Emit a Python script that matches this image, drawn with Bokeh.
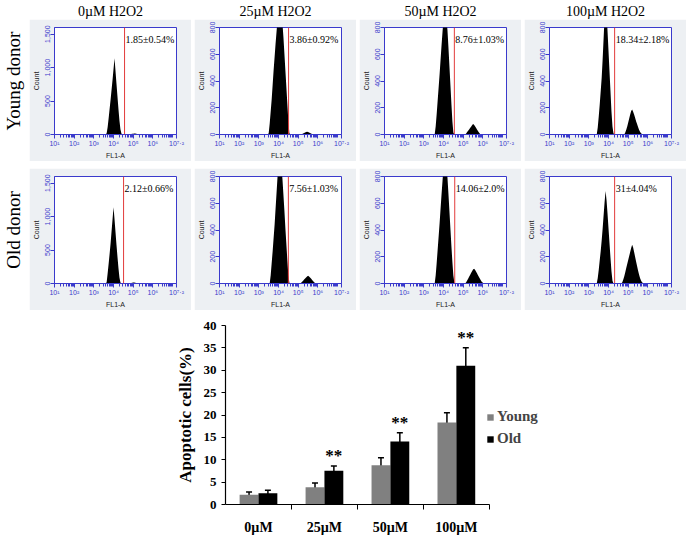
from math import log10, pi
from bokeh.plotting import figure
from bokeh.layouts import column, row
from bokeh.models import (Range1d, FixedTicker, Span, Label, ColumnDataSource,
                          Whisker, TeeHead, Legend, LegendItem,
                          Spacer, NumeralTickFormatter)
from bokeh.transform import dodge
from bokeh.embed import file_html
from bokeh.resources import INLINE
from bokeh.core.properties import value

# ---------------- data ----------------
concentrations = ["0µM", "25µM", "50µM", "100µM"]
panel_titles = ["0µM H2O2", "25µM H2O2", "50µM H2O2", "100µM H2O2"]
donors = ["Young donor", "Old donor"]

young_pct = [2.2, 3.86, 8.76, 18.34]
young_err = [0.6, 0.92, 1.7, 2.18]
old_pct = [2.5, 7.56, 14.06, 31.0]
old_err = [0.7, 1.03, 2.0, 4.04]
significance = ["", "**", "**", "**"]

young_gate_text = ["1.85±0.54%", "3.86±0.92%", "8.76±1.03%", "18.34±2.18%"]
old_gate_text = ["2.12±0.66%", "7.56±1.03%", "14.06±2.0%", "31±4.04%"]
young_gate = [4.56, 4.51, 4.55, 4.31]
old_gate = [4.51, 4.50, 4.57, 4.31]
count_max = [1600, 800, 800, 800]
count_ticks = [[0, 500, 1000, 1500], [0, 200, 400, 600, 800],
               [0, 200, 400, 600, 800], [0, 200, 400, 600, 800]]

# log10(FL1-A) bin centres of the flow histograms
fl1_log = [3.30, 3.35, 3.40, 3.45, 3.50, 3.55, 3.60, 3.65, 3.70, 3.75,
           3.80, 3.85, 3.90, 3.95, 4.00, 4.05, 4.10, 4.15, 4.20, 4.25,
           4.30, 4.35, 4.40, 4.45, 4.50, 4.55, 4.60, 4.65, 4.70, 4.75,
           4.80, 4.85, 4.90, 4.95, 5.00, 5.05, 5.10, 5.15, 5.20, 5.25,
           5.30, 5.35, 5.40, 5.45, 5.50, 5.55, 5.60, 5.65, 5.70, 5.75,
           5.80, 5.85, 5.90, 5.95, 6.00, 6.05, 6.10]

young_0 = [0, 0, 0, 0, 0, 0, 0, 20, 110, 240,
           380, 520, 670, 820, 980, 1140, 950, 760, 570, 380,
           210, 80, 15, 0, 0, 0, 0, 0, 0, 0,
           0, 2, 6, 10, 13, 15, 14, 11, 7, 4,
           2, 0, 0, 0, 0, 0, 0, 0, 0, 0,
           0, 0, 0, 0, 0, 0, 0]
young_25 = [0, 0, 0, 0, 10, 80, 170, 260, 370, 480,
            580, 680, 770, 860, 960, 1060, 1000, 920, 830, 725,
            600, 475, 350, 225, 100, 10, 0, 0, 0, 0,
            0, 0, 0, 0, 0, 0, 0, 0, 3, 7,
            11, 15, 19, 21, 19, 15, 11, 7, 4, 2,
            0, 0, 0, 0, 0, 0, 0]
young_50 = [0, 0, 0, 0, 0, 0, 60, 150, 250, 350,
            450, 560, 670, 770, 860, 960, 920, 860, 780, 650,
            510, 370, 230, 100, 15, 0, 0, 0, 0, 0,
            0, 0, 0, 0, 0, 0, 0, 8, 18, 28,
            38, 48, 58, 70, 78, 72, 62, 50, 38, 26,
            15, 6, 0, 0, 0, 0, 0]
young_100 = [0, 0, 0, 50, 130, 220, 320, 420, 560, 720,
             880, 1000, 920, 770, 620, 470, 320, 170, 60, 10,
             0, 0, 0, 0, 0, 0, 0, 0, 0, 0,
             0, 15, 35, 60, 90, 120, 150, 175, 186, 170,
             150, 125, 100, 78, 56, 36, 20, 9, 3, 0,
             0, 0, 0, 0, 0, 0, 0]
old_0 = [0, 0, 0, 0, 0, 0, 0, 20, 150, 290,
         440, 600, 780, 960, 1140, 960, 770, 580, 400, 230,
         90, 15, 0, 0, 0, 0, 0, 0, 0, 0,
         0, 3, 7, 11, 14, 15, 13, 9, 5, 2,
         0, 0, 0, 0, 0, 0, 0, 0, 0, 0,
         0, 0, 0, 0, 0, 0, 0]
old_25 = [0, 0, 0, 0, 0, 0, 60, 150, 240, 340,
          440, 560, 680, 800, 900, 1010, 950, 870, 780, 660,
          540, 410, 290, 170, 60, 5, 0, 0, 0, 0,
          0, 0, 0, 0, 0, 0, 0, 6, 13, 21,
          29, 37, 45, 53, 58, 53, 45, 37, 28, 19,
          11, 4, 0, 0, 0, 0, 0]
old_50 = [0, 0, 0, 0, 0, 0, 60, 150, 250, 350,
          450, 560, 670, 770, 870, 970, 930, 870, 790, 670,
          540, 410, 280, 160, 60, 8, 0, 0, 0, 0,
          0, 0, 0, 0, 0, 0, 0, 10, 22, 36,
          50, 64, 78, 92, 104, 110, 102, 90, 76, 62,
          48, 35, 23, 12, 5, 0, 0]
old_100 = [0, 0, 0, 40, 100, 170, 240, 320, 410, 510,
           610, 692, 620, 520, 410, 300, 190, 90, 20, 0,
           0, 0, 0, 0, 0, 0, 0, 0, 10, 30,
           55, 85, 115, 145, 175, 205, 235, 265, 289, 270,
           235, 200, 165, 130, 97, 68, 42, 22, 9, 3,
           0, 0, 0, 0, 0, 0, 0]

young_hist = [young_0, young_25, young_50, young_100]
old_hist = [old_0, old_25, old_50, old_100]

# axis labels of the flow panels
decade_ticks = [1, 2, 3, 4, 5, 6, 7.2]
decade_labels = ["10¹", "10²", "10³", "10⁴", "10⁵", "10⁶", "10⁷·²"]

# ---------------- style ----------------
BLUE = "#3a3acc"
PANEL_BG = "#edf0f3"
SERIF = "Liberation Serif"
SANS = "Liberation Sans"
LW, PW, PH, GAP = 26, 162, 142, 3

minor_x = [d + log10(k) for d in range(1, 7) for k in range(2, 10)] + [7.0]


def text_fig(txt, w, h, size, angle=0.0, yoff=0):
    f = figure(width=w, height=h, x_range=Range1d(0, 1), y_range=Range1d(0, 1),
               x_axis_location=None, y_axis_location=None, min_border=0,
               output_backend="svg", toolbar_location=None)
    f.grid.visible = False
    f.outline_line_color = None
    f.text(x=[0.5], y=[0.5], text=[txt], angle=angle, text_align="center",
           text_baseline="middle", y_offset=yoff, text_font=value(SERIF),
           text_font_size=size, text_color="black")
    return f


def flow_panel(counts, gate, pct, ymax, yticks):
    p = figure(width=PW, height=PH, x_range=Range1d(1, 7.2), y_range=Range1d(0, ymax),
               output_backend="svg", toolbar_location=None,
               min_border_left=24, min_border_right=15, min_border_top=8, min_border_bottom=26,
               background_fill_color="white", border_fill_color=PANEL_BG,
               outline_line_color=BLUE, outline_line_width=1)
    p.grid.visible = False
    p.varea(x=fl1_log, y1=0, y2=counts, fill_color="black")
    p.add_layout(Span(location=gate, dimension="height", line_color="#e23b3b", line_width=1))
    p.add_layout(Label(x=gate, y=ymax, x_offset=1, y_offset=-12, text=pct,
                       text_font=SERIF, text_font_size="10px", text_baseline="middle",
                       text_color="black"))
    xa = p.xaxis[0]
    xa.ticker = FixedTicker(ticks=decade_ticks, minor_ticks=minor_x)
    xa.major_label_overrides = {t: l for t, l in zip(decade_ticks, decade_labels)}
    xa.axis_label = "FL1-A"
    ya = p.yaxis[0]
    ya.ticker = FixedTicker(ticks=yticks)
    ya.formatter = NumeralTickFormatter(format="0,0")
    ya.major_label_orientation = "vertical"
    ya.axis_label = "Count"
    for ax in (xa, ya):
        ax.axis_line_color = BLUE
        ax.major_tick_line_color = BLUE
        ax.minor_tick_line_color = BLUE
        ax.major_tick_in = 0
        ax.minor_tick_in = 0
        ax.major_tick_out = 4
        ax.minor_tick_out = 3
        ax.major_label_text_color = BLUE
        ax.major_label_text_font = SANS
        ax.major_label_text_font_size = "7px"
        ax.major_label_standoff = 1
        ax.axis_label_text_font = SANS
        ax.axis_label_text_font_size = "7px"
        ax.axis_label_text_font_style = "normal"
        ax.axis_label_text_color = "#222222"
        ax.axis_label_standoff = 2
    return p


header = row(Spacer(width=LW, height=19),
             *[text_fig(t, PW, 19, "14px", yoff=1) for t in panel_titles], spacing=GAP)

rows = []
for donor, hists, gates, texts in ((donors[0], young_hist, young_gate, young_gate_text),
                                   (donors[1], old_hist, old_gate, old_gate_text)):
    panels = [flow_panel(hists[i], gates[i], texts[i], count_max[i], count_ticks[i])
              for i in range(4)]
    rows.append(row(text_fig(donor, LW, PH, "19px", angle=pi / 2), *panels, spacing=GAP))

# ---------------- bar chart ----------------
cat_pos = [i + 0.5 for i in range(len(concentrations))]       # category centres
cat_bounds = [i + 1.0 for i in range(len(concentrations))]    # category boundaries

src = ColumnDataSource(dict(
    pos=cat_pos,
    young=young_pct, old=old_pct,
    young_lo=[v - e for v, e in zip(young_pct, young_err)],
    young_hi=[v + e for v, e in zip(young_pct, young_err)],
    old_lo=[v - e for v, e in zip(old_pct, old_err)],
    old_hi=[v + e for v, e in zip(old_pct, old_err)],
    sig=significance,
))

bp = figure(width=401, height=222, x_range=Range1d(0, 5.2), y_range=Range1d(0, 40),
            output_backend="svg", toolbar_location=None,
            min_border_left=50, min_border_right=5, min_border_top=10, min_border_bottom=32,
            outline_line_color=None)
bp.grid.visible = False

BW = 0.286
r_y = bp.vbar(x=dodge("pos", -BW / 2), top="young", width=BW,
              source=src, fill_color="#808080", line_color=None)
r_o = bp.vbar(x=dodge("pos", BW / 2), top="old", width=BW,
              source=src, fill_color="black", line_color=None)

for off, lo, hi in ((-BW / 2, "young_lo", "young_hi"), (BW / 2, "old_lo", "old_hi")):
    bp.add_layout(Whisker(source=src, base=dodge("pos", off),
                          lower=lo, upper=hi, line_color="black", line_width=1.5,
                          upper_head=TeeHead(size=6, line_width=1.5, line_color="black"),
                          lower_head=TeeHead(size=6, line_width=1.5, line_color="black")))

bp.text(x=dodge("pos", BW / 2), y="old_hi", text="sig", source=src,
        text_align="center", text_baseline="bottom", y_offset=-1,
        text_font=value(SERIF), text_font_size="17px", text_font_style="bold",
        text_color="black")

xa = bp.xaxis[0]
xa.bounds = (0, len(concentrations))
xa.ticker = FixedTicker(ticks=cat_pos, minor_ticks=cat_bounds)
xa.major_label_overrides = {p: c for p, c in zip(cat_pos, concentrations)}
xa.major_tick_line_color = None
xa.minor_tick_in = 0
xa.minor_tick_out = 5
xa.minor_tick_line_color = "black"
xa.axis_line_color = "black"
xa.axis_line_width = 1.2
xa.major_label_standoff = 9
xa.major_label_text_font = SERIF
xa.major_label_text_font_style = "bold"
xa.major_label_text_font_size = "14px"
xa.major_label_text_color = "black"

ya = bp.yaxis[0]
ya.ticker = FixedTicker(ticks=[0, 5, 10, 15, 20, 25, 30, 35, 40])
ya.axis_label = "Apoptotic cells(%)"
ya.axis_label_text_font = SERIF
ya.axis_label_text_font_style = "bold"
ya.axis_label_text_font_size = "17px"
ya.axis_label_text_color = "black"
ya.axis_label_standoff = 6
ya.major_label_text_font = SERIF
ya.major_label_text_font_style = "bold"
ya.major_label_text_font_size = "13px"
ya.major_label_text_color = "black"
ya.major_label_standoff = 5
ya.major_tick_in = 0
ya.major_tick_out = 4
ya.minor_tick_line_color = None
ya.axis_line_color = "black"
ya.axis_line_width = 1.2
ya.major_tick_line_color = "black"

legend = Legend(items=[LegendItem(label="Young", renderers=[r_y]),
                       LegendItem(label="Old", renderers=[r_o])],
                location=(261, 57), border_line_color=None, background_fill_alpha=0,
                label_text_font=SERIF, label_text_font_style="bold",
                label_text_font_size="15px", glyph_width=8, glyph_height=8,
                label_standoff=3, spacing=5, padding=0, margin=0, label_height=16)
bp.add_layout(legend)

layout = column(header, rows[0], Spacer(height=7), rows[1], Spacer(height=5),
                row(Spacer(width=172, height=10), bp))

with open("out.html", "w") as f:
    f.write(file_html(layout, INLINE))
